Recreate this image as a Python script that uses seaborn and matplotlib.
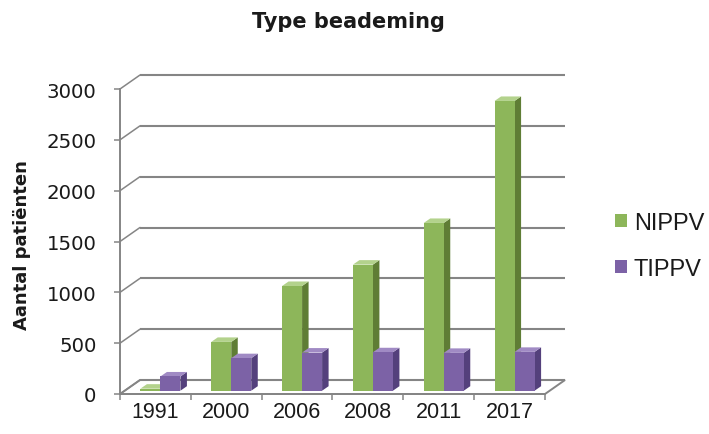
import matplotlib
matplotlib.use("Agg")
import matplotlib.pyplot as plt
from matplotlib.patches import Polygon, Rectangle
import matplotlib.colors as mcolors
import seaborn as sns
import pandas as pd

# --- data -------------------------------------------------------------
years = ["1991", "2000", "2006", "2008", "2011", "2017"]
nippv = [20, 480, 1030, 1240, 1650, 2850]
tippv = [140, 320, 375, 378, 372, 382]
series_names = ["NIPPV", "TIPPV"]
y_ticks = [0, 500, 1000, 1500, 2000, 2500, 3000]

title_text = "Type beademing"
ylabel_text = "Aantal patiënten"

df = pd.DataFrame({
    "Jaar": years * 2,
    "Type": [series_names[0]] * len(years) + [series_names[1]] * len(years),
    "Aantal": nippv + tippv,
})

# --- style -------------------------------------------------------------
sns.set_theme(style="white")
plt.rcParams["font.family"] = ["DejaVu Sans"]

front = {"NIPPV": "#8DB65A", "TIPPV": "#7C62A6"}
side = {"NIPPV": "#5F7D35", "TIPPV": "#54407C"}
top = {"NIPPV": "#B3D28C", "TIPPV": "#A08AC4"}
grid_col = "#858585"
text_col = "#1A1A1A"

W, H, DPI = 709, 435, 100
fig = plt.figure(figsize=(W / DPI, H / DPI), dpi=DPI)
fig.patch.set_facecolor("white")
ax = fig.add_axes([120 / W, (H - 395) / H, 425 / W, 305 / H])

sns.barplot(data=df, x="Jaar", y="Aantal", hue="Type", order=years,
            hue_order=series_names, palette=front, width=0.565, gap=0,
            saturation=1, edgecolor="none", linewidth=0, ax=ax, zorder=5)

ax.set_xlim(-0.5, 5.5)
ax.set_ylim(0, 3000)

bars = [p for p in ax.patches if isinstance(p, Rectangle) and p.get_height() > 0]
bars.sort(key=lambda p: p.get_x())

# pixel -> data conversion for the pseudo-3D depth offsets
p0 = ax.transData.transform((0, 0))
p1 = ax.transData.transform((1, 1000))
sx = p1[0] - p0[0]
sy = (p1[1] - p0[1]) / 1000.0

def dxy(px, py):
    return px / sx, py / sy

# back wall depth, bar plane offset, bar thickness
Dx, Dy = dxy(20, 14)
bx, by = dxy(5, 3.3)
tx, ty = dxy(6.5, 4.5)

# floor
floor = Polygon([(-0.5, 0), (5.5, 0), (5.5 + Dx, Dy), (-0.5 + Dx, Dy)],
                closed=True, facecolor="white", edgecolor=grid_col,
                linewidth=1.4, zorder=1, clip_on=False)
ax.add_patch(floor)

# back-wall gridlines with their diagonal connectors to the front axis
for v in y_ticks:
    ax.plot([-0.5 + Dx, 5.5 + Dx], [v + Dy, v + Dy], color=grid_col,
            lw=1.5, zorder=2, clip_on=False, solid_capstyle="butt")
    ax.plot([-0.5, -0.5 + Dx], [v, v + Dy], color=grid_col,
            lw=1.1, zorder=2, clip_on=False)

# bars: shift front faces into the bar plane and add side / top faces
for i, p in enumerate(bars):
    x0 = p.get_x() + bx
    w = p.get_width()
    h = p.get_height()
    x1 = x0 + w
    key = series_names[0] if mcolors.same_color(p.get_facecolor()[:3], mcolors.to_rgb(front[series_names[0]])) else series_names[1]
    z = 5 + i * 0.01
    p.set_x(x0)
    p.set_y(by)
    p.set_zorder(z)
    p.set_clip_on(False)
    yb, yt = by, by + h
    ax.add_patch(Polygon([(x1, yb), (x1, yt), (x1 + tx, yt + ty), (x1 + tx, yb + ty)],
                         closed=True, facecolor=side[key], edgecolor="none",
                         zorder=z - 0.001, clip_on=False))
    ax.add_patch(Polygon([(x0, yt), (x1, yt), (x1 + tx, yt + ty), (x0 + tx, yt + ty)],
                         closed=True, facecolor=top[key], edgecolor="none",
                         zorder=z - 0.001, clip_on=False))

# axes, ticks and labels
sns.despine(ax=ax, top=True, right=True)
for s in ("left", "bottom"):
    ax.spines[s].set_color(grid_col)
    ax.spines[s].set_linewidth(1.4)
    ax.spines[s].set_zorder(3)

ax.set_yticks(y_ticks)
ax.set_yticklabels([str(v) for v in y_ticks])
ax.tick_params(axis="y", direction="out", length=4, width=1.1, color=grid_col,
               pad=13, labelsize=14.2, labelcolor=text_col, left=True)

ax.set_xticks(range(len(years)))
ax.set_xticklabels(years)
ax.set_xticks([i - 0.5 for i in range(len(years) + 1)], minor=True)
ax.tick_params(axis="x", which="major", length=0, pad=5, labelsize=15.5,
               labelcolor=text_col, labelfontfamily="Liberation Sans")
ax.tick_params(axis="x", which="minor", direction="out", length=4, width=1.1,
               color=grid_col, bottom=True)

ax.set_xlabel("")
ax.set_ylabel(ylabel_text, fontsize=13, fontweight="bold", color=text_col)
ax.yaxis.set_label_coords((31 - 120) / 425, 0.49)

ax.grid(False)
ax.set_facecolor("none")

fig.suptitle(title_text, x=348 / W, y=1 - 28 / H, va="baseline",
             fontsize=15, fontweight="bold", color=text_col)

# legend
handles, labels = ax.get_legend_handles_labels()
if ax.get_legend() is not None:
    ax.get_legend().remove()
leg = fig.legend(handles[:2], labels[:2], loc="upper left",
                 bbox_to_anchor=(615 / W, 1 - 213 / H), frameon=False,
                 handlelength=0.5, handleheight=0.5, handletextpad=0.3,
                 labelspacing=1.0, borderaxespad=0, borderpad=0,
                 prop={"family": "Liberation Sans", "size": 17})
for t in leg.get_texts():
    t.set_color(text_col)

fig.savefig("out.png", dpi=DPI, facecolor="white")
